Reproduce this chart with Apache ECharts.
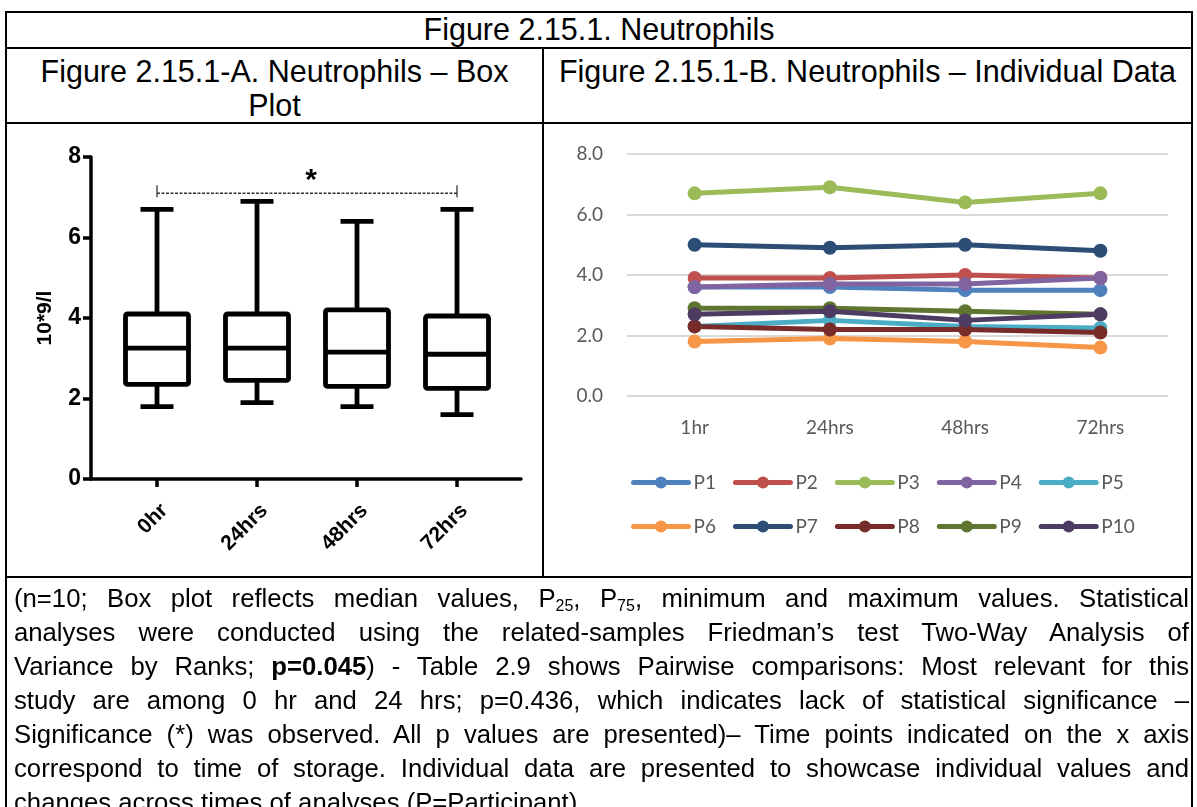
<!DOCTYPE html>
<html>
<head>
<meta charset="utf-8">
<title>Figure 2.15.1. Neutrophils</title>
<script src="https://cdn.jsdelivr.net/npm/echarts@6/dist/echarts.min.js"></script>
<style>
  html, body { margin: 0; padding: 0; background: #fff; }
  #page { position: relative; width: 1197px; height: 807px; overflow: hidden;
          font-family: "Liberation Sans", Arial, sans-serif; color: #000; }
  .hl { position: absolute; background: #000; height: 2px; }
  .vl { position: absolute; background: #000; width: 2px; }
  .head { position: absolute; text-align: center; font-size: 30.5px; line-height: 34px; white-space: nowrap; }
  #chart { position: absolute; left: 0; top: 0; width: 1197px; height: 807px; }
  .cap { position: absolute; left: 14px; top: 581px; width: 1175px; font-size: 25.7px; }
  .cap div { height: 34px; line-height: 34px; text-align: justify; text-align-last: justify; white-space: nowrap; }
  .cap div.last { text-align-last: left; }
  .cap sub { font-size: 16px; vertical-align: -4px; line-height: 0; }
</style>
</head>
<body>
<div id="page">
  <!-- table frame -->
  <div class="hl" style="left:5px; width:1188px; top:11px;"></div>
  <div class="hl" style="left:5px; width:1188px; top:47px;"></div>
  <div class="hl" style="left:5px; width:1188px; top:122px;"></div>
  <div class="hl" style="left:5px; width:1188px; top:576px;"></div>
  <div class="vl" style="left:5px; top:11px; height:800px;"></div>
  <div class="vl" style="left:1191px; top:11px; height:800px;"></div>
  <div class="vl" style="left:542px; top:47px; height:531px;"></div>

  <!-- headings -->
  <div class="head" style="left:7px; width:1184px; top:12px;">Figure 2.15.1. Neutrophils</div>
  <div class="head" style="left:7px; width:535px; top:54px;">Figure 2.15.1-A. Neutrophils – Box<br>Plot</div>
  <div class="head" style="left:544px; width:647px; top:54px;">Figure 2.15.1-B. Neutrophils – Individual Data</div>

  <div id="chart"></div>

  <!-- legend text under the figure -->
  <div class="cap">
    <div>(n=10; Box plot reflects median values, P<sub>25</sub>, P<sub>75</sub>, minimum and maximum values. Statistical</div>
    <div>analyses were conducted using the related-samples Friedman’s test Two-Way Analysis of</div>
    <div>Variance by Ranks; <b>p=0.045</b>) - Table 2.9 shows Pairwise comparisons: Most relevant for this</div>
    <div>study are among 0 hr and 24 hrs; p=0.436, which indicates lack of statistical significance –</div>
    <div>Significance (*) was observed. All p values are presented)– Time points indicated on the x axis</div>
    <div>correspond to time of storage. Individual data are presented to showcase individual values and</div>
    <div class="last">changes across times of analyses (P=Participant).</div>
  </div>
</div>

<script>
// ---- Panel A: box plot summary (10^9/l) ----
const boxCategories = ['0hr', '24hrs', '48hrs', '72hrs'];
const boxMin    = [1.8, 1.9, 1.8, 1.6];
const boxQ1     = [2.35, 2.45, 2.3, 2.25];
const boxMedian = [3.25, 3.25, 3.15, 3.1];
const boxQ3     = [4.1, 4.1, 4.2, 4.05];
const boxMax    = [6.7, 6.9, 6.4, 6.7];

// significance bracket: from first to last time point, at this height
const bracketFrom = 0;
const bracketTo = 3;
const bracketLevel = 7.1;

// ---- Panel B: individual participant values ----
const lineCategories = ['1hr', '24hrs', '48hrs', '72hrs'];
const participants = ['P1', 'P2', 'P3', 'P4', 'P5', 'P6', 'P7', 'P8', 'P9', 'P10'];
const P1  = [3.6, 3.6, 3.5, 3.5];
const P2  = [3.9, 3.9, 4.0, 3.9];
const P3  = [6.7, 6.9, 6.4, 6.7];
const P4  = [3.6, 3.7, 3.7, 3.9];
const P5  = [2.3, 2.5, 2.3, 2.25];
const P6  = [1.8, 1.9, 1.8, 1.6];
const P7  = [5.0, 4.9, 5.0, 4.8];
const P8  = [2.3, 2.2, 2.2, 2.1];
const P9  = [2.9, 2.9, 2.8, 2.7];
const P10 = [2.7, 2.8, 2.5, 2.7];
const participantValues = [P1, P2, P3, P4, P5, P6, P7, P8, P9, P10];
const participantColors = ['#4F81BD', '#C0504D', '#9BBB59', '#8064A2', '#4BACC6',
                           '#F79646', '#2C4D75', '#772C2A', '#5F7530', '#4D3B62'];

const chart = echarts.init(document.getElementById('chart'), null, { renderer: 'canvas' });

// box with half-width whisker caps
function renderBox(params, api) {
  const i = api.value(0);
  const pMin = api.coord([i, api.value(1)]);
  const pQ1 = api.coord([i, api.value(2)]);
  const pMed = api.coord([i, api.value(3)]);
  const pQ3 = api.coord([i, api.value(4)]);
  const pMax = api.coord([i, api.value(5)]);
  const band = api.size([1, 0])[0];
  const hw = band * 0.315;
  const cw = band * 0.165;
  const x = pMed[0];
  const st = { stroke: '#000', lineWidth: 4.8, fill: null };
  return {
    type: 'group',
    children: [
      { type: 'line', shape: { x1: x, y1: pQ3[1], x2: x, y2: pMax[1] }, style: st },
      { type: 'line', shape: { x1: x - cw, y1: pMax[1], x2: x + cw, y2: pMax[1] }, style: st },
      { type: 'line', shape: { x1: x, y1: pQ1[1], x2: x, y2: pMin[1] }, style: st },
      { type: 'line', shape: { x1: x - cw, y1: pMin[1], x2: x + cw, y2: pMin[1] }, style: st },
      { type: 'rect', shape: { x: x - hw, y: pQ3[1], width: 2 * hw, height: pQ1[1] - pQ3[1], r: 2 },
        style: { stroke: '#000', lineWidth: 4.8, fill: '#fff', lineJoin: 'round' } },
      { type: 'line', shape: { x1: x - hw, y1: pMed[1], x2: x + hw, y2: pMed[1] }, style: st }
    ]
  };
}

// dashed significance bracket with a star above it
function renderBracket(params, api) {
  const a = api.coord([api.value(0), api.value(2)]);
  const b = api.coord([api.value(1), api.value(2)]);
  const unit = api.size([0, 0.1])[1];
  const st = { stroke: '#333', lineWidth: 1.3, fill: null };
  return {
    type: 'group',
    children: [
      { type: 'line', shape: { x1: a[0], y1: a[1], x2: b[0], y2: b[1] },
        style: { stroke: '#333', lineWidth: 1.3, lineDash: [3, 1.5] } },
      { type: 'line', shape: { x1: a[0], y1: a[1] - 2 * unit, x2: a[0], y2: a[1] + unit }, style: st },
      { type: 'line', shape: { x1: b[0], y1: b[1] - 2 * unit, x2: b[0], y2: b[1] + unit }, style: st },
      { type: 'text', x: (a[0] + b[0]) / 2 + 4, y: a[1] - 12,
        style: { text: '*', fill: '#000', font: 'bold 30px "Liberation Sans", Arial, sans-serif',
                 textAlign: 'center', textVerticalAlign: 'middle' } }
    ]
  };
}

const boxData = boxCategories.map((c, i) => [i, boxMin[i], boxQ1[i], boxMedian[i], boxQ3[i], boxMax[i]]);

const lineSeries = participants.map((name, k) => ({
  name: name,
  type: 'line',
  xAxisIndex: 2,
  yAxisIndex: 2,
  data: participantValues[k],
  symbol: 'circle',
  symbolSize: 14,
  color: participantColors[k],
  lineStyle: { width: 5, color: participantColors[k] },
  itemStyle: { color: participantColors[k] },
  emphasis: { disabled: true }
}));

const legendText = { fontFamily: 'Lato, "Noto Sans", sans-serif', fontSize: 19, color: '#595959' };
const legendCommon = {
  itemWidth: 55, itemHeight: 15, itemGap: 17, textStyle: legendText, selectedMode: false,
  lineStyle: { width: 5, cap: 'round' }
};

chart.setOption({
  animation: false,
  grid: [
    { left: 91, top: 157, width: 430, height: 322 },   // panel A frame
    { left: 107, top: 157, width: 400, height: 322 },  // panel A boxes
    { left: 627, top: 154, width: 541, height: 242 }   // panel B
  ],
  xAxis: [
    { type: 'value', gridIndex: 0, min: 0, max: 1,
      axisLine: { show: true, onZero: false, lineStyle: { color: '#000', width: 3.5 } },
      axisTick: { show: false }, axisLabel: { show: false }, splitLine: { show: false } },
    { type: 'category', gridIndex: 1, data: boxCategories,
      axisLine: { show: false },
      axisTick: { show: true, alignWithLabel: true, length: 8, lineStyle: { color: '#000', width: 3.5 } },
      axisLabel: { rotate: 45, margin: 21, color: '#000', fontWeight: 'bold', fontSize: 21,
                   verticalAlign: 'top',
                   fontFamily: '"Liberation Sans", Arial, sans-serif' },
      splitLine: { show: false } },
    { type: 'category', gridIndex: 2, data: lineCategories,
      axisLine: { show: false }, axisTick: { show: false },
      axisLabel: { margin: 22, color: '#595959', fontSize: 19, fontFamily: 'Lato, "Noto Sans", sans-serif' } }
  ],
  yAxis: [
    { type: 'value', gridIndex: 0, min: 0, max: 8, interval: 2,
      name: '10*9/l', nameLocation: 'middle', nameRotate: 90, nameGap: 35,
      nameTextStyle: { color: '#000', fontWeight: 'bold', fontSize: 21,
                       fontFamily: '"Liberation Sans", Arial, sans-serif' },
      axisLine: { show: true, lineStyle: { color: '#000', width: 3.5 } },
      axisTick: { show: true, length: 8, lineStyle: { color: '#000', width: 3.5 } },
      axisLabel: { margin: 10, color: '#000', fontWeight: 'bold', fontSize: 23,
                   fontFamily: '"Liberation Sans", Arial, sans-serif' },
      splitLine: { show: false } },
    { type: 'value', gridIndex: 1, min: 0, max: 8, show: false },
    { type: 'value', gridIndex: 2, min: 0, max: 8, interval: 2,
      axisLine: { show: false }, axisTick: { show: false },
      axisLabel: { margin: 24, color: '#595959', fontSize: 19,
                   fontFamily: 'Lato, "Noto Sans", sans-serif',
                   formatter: v => v.toFixed(1) },
      splitLine: { show: true, lineStyle: { color: '#D9D9D9', width: 2 } } }
  ],
  legend: [
    Object.assign({ data: participants.slice(0, 5), left: 626, top: 468 }, legendCommon),
    Object.assign({ data: participants.slice(5), left: 626, top: 512 }, legendCommon)
  ],
  series: [
    { type: 'custom', name: 'box', xAxisIndex: 1, yAxisIndex: 1, data: boxData,
      renderItem: renderBox, encode: { x: 0, y: [1, 2, 3, 4, 5] }, silent: true },
    { type: 'custom', name: 'bracket', xAxisIndex: 1, yAxisIndex: 1,
      data: [[bracketFrom, bracketTo, bracketLevel]],
      renderItem: renderBracket, encode: { x: [0, 1], y: 2 }, silent: true, z: 3 }
  ].concat(lineSeries)
});
</script>
</body>
</html>
